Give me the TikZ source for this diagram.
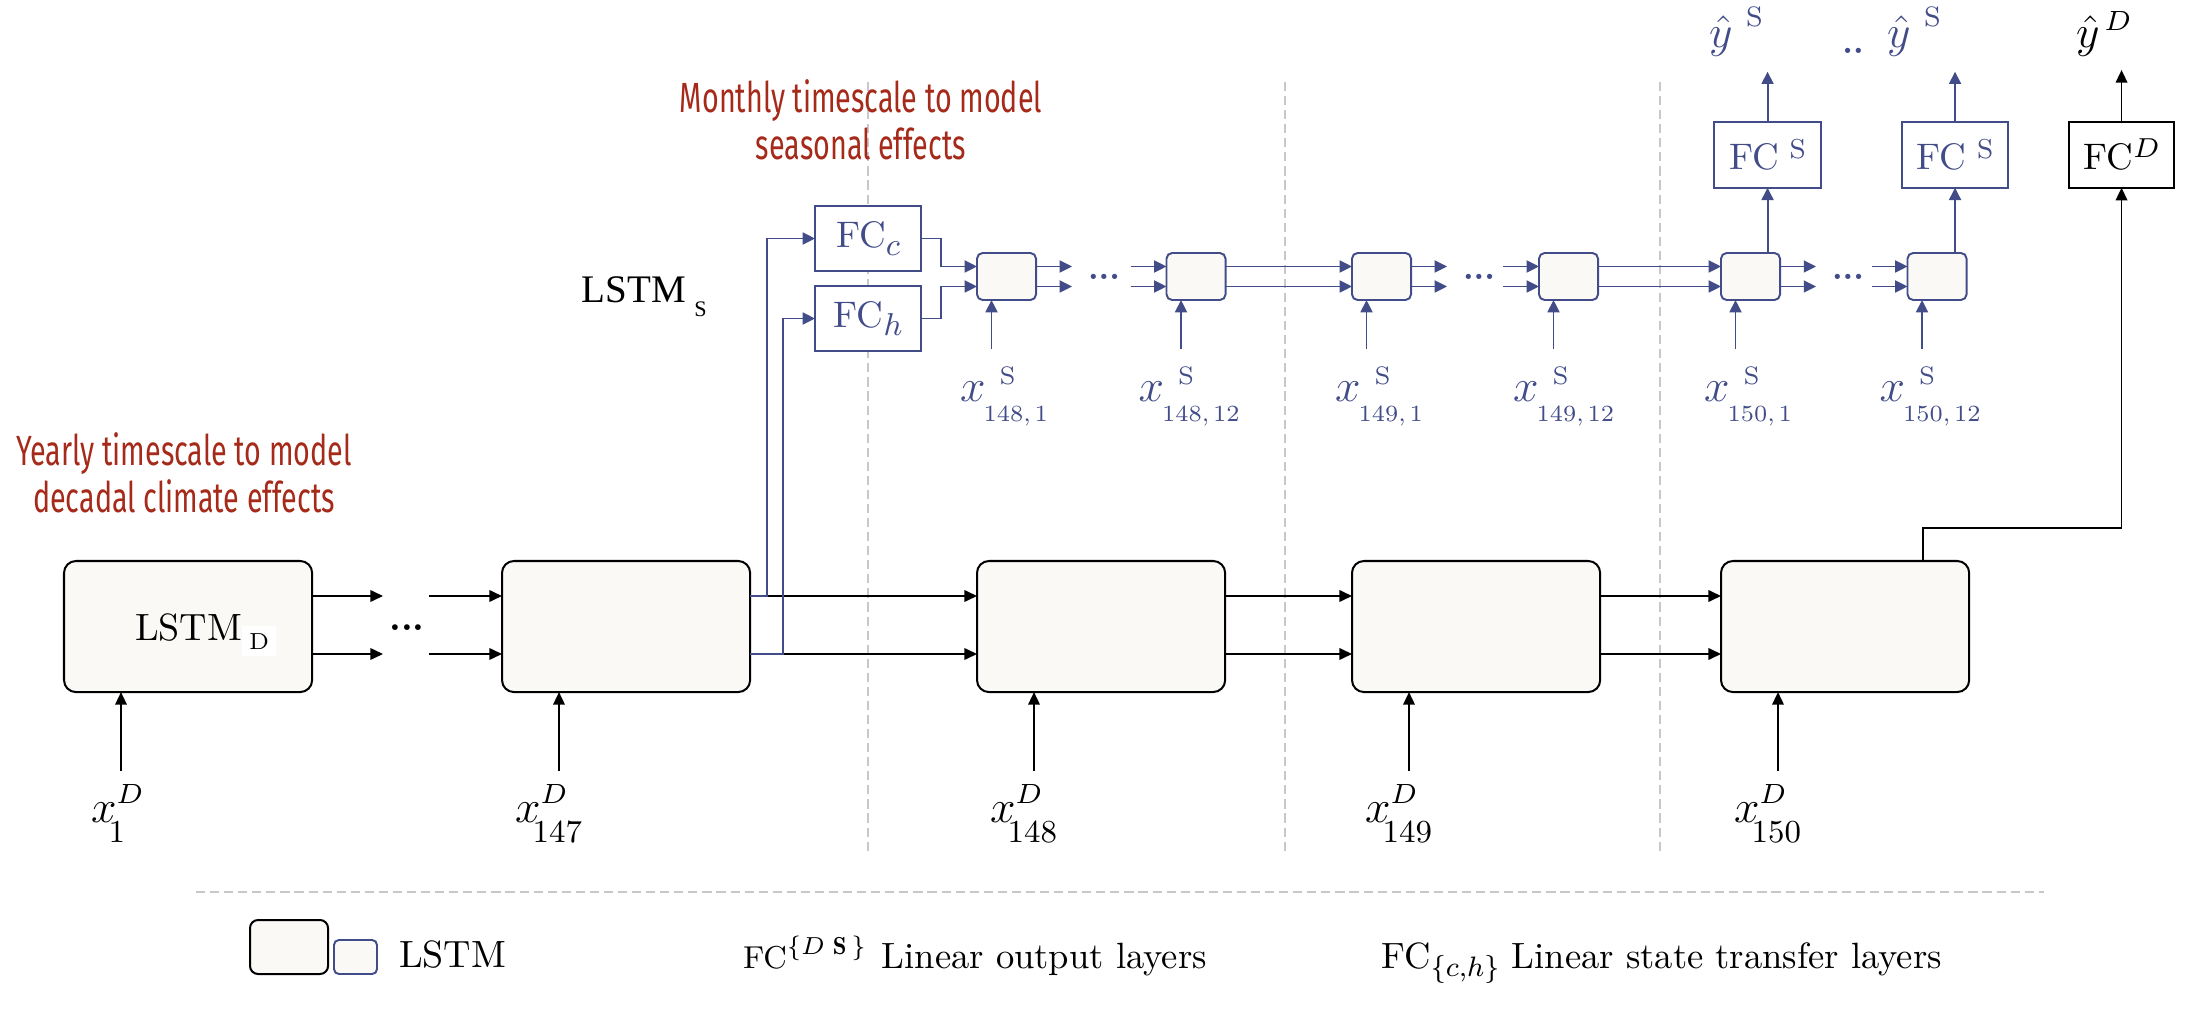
\documentclass[tikz,border=0pt]{standalone}
\usepackage{fix-cm}
\usepackage{fontspec}
\newfontfamily\redfont[FakeStretch=0.68]{Fira Sans}
\newfontfamily\timesfont{Liberation Serif}
\usetikzlibrary{arrows.meta,calc}
\definecolor{lblue}{RGB}{66,76,136}
\definecolor{lred}{RGB}{165,42,26}
\definecolor{boxfill}{RGB}{250,249,246}
\definecolor{sepgray}{RGB}{200,200,200}
\newcommand{\xSlab}[1]{$x$\rlap{\hspace{4pt}\raisebox{5pt}{\fontsize{7.2}{8}\selectfont S}}\hspace{-0.5pt}\raisebox{-5.7pt}{\fontsize{6.6}{8}\selectfont #1}}
\newcommand{\xDlab}[1]{$x$\rlap{\raisebox{5.3pt}{\fontsize{7.9}{9}\selectfont$D$}}\hspace{-2.2pt}\raisebox{-5.9pt}{\fontsize{9.1}{10}\selectfont #1}}
\newcommand{\yhatS}{$\hat{y}$\hspace{3.9pt}\raisebox{6pt}{\fontsize{8}{9}\selectfont S}}
\newcommand{\yhatD}{$\hat{y}$\hspace{1.4pt}\raisebox{4.9pt}{\fontsize{7.9}{9}\selectfont$D$}}
\begin{document}
\begin{tikzpicture}[x=0.01cm,y=-0.01cm,
  every node/.style={inner sep=0pt, outer sep=0pt},
  bigbox/.style={draw=black, line width=0.57pt, rounded corners=3.4pt, fill=boxfill, minimum width=2.48cm, minimum height=1.31cm, anchor=north west},
  smallbox/.style={draw=lblue, line width=0.55pt, rounded corners=1.6pt, fill=boxfill, minimum width=0.59cm, minimum height=0.47cm, anchor=north west},
  fcbox/.style={draw=lblue, line width=0.55pt, fill=white, minimum width=1.06cm, minimum height=0.65cm, anchor=north west, text=lblue, font=\fontsize{10.5}{12}\selectfont},
  arr/.style={draw=black, line width=0.5pt, -{Triangle[length=3.6pt,width=3.3pt]}},
  barr/.style={draw=lblue, color=lblue, line width=0.55pt, -{Triangle[length=3.5pt,width=3.4pt]}},
  sep/.style={draw=sepgray, line width=0.4pt, dash pattern=on 2.6pt off 1.4pt},
  redtxt/.style={text=lred, font=\redfont\fontsize{12}{13.4}\selectfont, align=center},
  lbl/.style={anchor=base west},
  xl/.style={anchor=base west, font=\fontsize{13}{15}\selectfont},
  xls/.style={anchor=base west, font=\fontsize{13}{15}\selectfont, text=lblue},
  dotsb/.style={anchor=base, font=\bfseries\fontsize{10.5}{12}\selectfont},
  dotss/.style={anchor=base, font=\bfseries\fontsize{9.5}{12}\selectfont, text=lblue},
]
\useasboundingbox (0,0) rectangle (2188,1013);

% separators
\coordinate (v1t) at (868,82);  \coordinate (v1b) at (868,855);
\coordinate (v2t) at (1285,82); \coordinate (v2b) at (1285,855);
\coordinate (v3t) at (1660,82); \coordinate (v3b) at (1660,855);
\coordinate (hl) at (196,892);  \coordinate (hr) at (2044,892);
\draw[sep] (v1t) -- (v1b);
\draw[sep] (v2t) -- (v2b);
\draw[sep] (v3t) -- (v3b);
\draw[sep] (hl) -- (hr);

% row coordinates
\coordinate (r1) at (0,596);
\coordinate (r2) at (0,654);
\coordinate (s1) at (0,266.5);
\coordinate (s2) at (0,286.5);

% big LSTM boxes
\node[bigbox] (B1) at (64,561) {};
\node[bigbox] (B2) at (502,561) {};
\node[bigbox] (B3) at (977,561) {};
\node[bigbox] (B4) at (1352,561) {};
\node[bigbox] (B5) at (1721,561) {};
\node[lbl, font=\fontsize{10.8}{12}\selectfont] (lstmD) at (135,640) {LSTM\raisebox{-2.56pt}{\setlength{\fboxsep}{2pt}\colorbox{white}{\fontsize{6.6}{7}\selectfont D}}};

% big row connectors
\coordinate (B1o) at (383,0);
\coordinate (B2i) at (429,0);
\draw[arr] (B1.east |- r1) -- (B1o |- r1);
\draw[arr] (B1.east |- r2) -- (B1o |- r2);
\node[dotsb] (dB) at (407,631) {...};
\draw[arr] (B2i |- r1) -- (B2.west |- r1);
\draw[arr] (B2i |- r2) -- (B2.west |- r2);
\foreach \a/\b in {B2/B3,B3/B4,B4/B5}{
  \draw[arr] (\a.east |- r1) -- (\b.west |- r1);
  \draw[arr] (\a.east |- r2) -- (\b.west |- r2);
}

% big inputs and labels
\foreach \k in {B1,B2,B3,B4,B5}{
  \coordinate (\k-in) at ($(\k.south west)+(57,79)$);
  \draw[arr] (\k-in) -- (\k-in |- \k.south);
}
\node[xl] (XD1) at ($(B1.south west)+(27,130)$) {\xDlab{1}};
\node[xl] (XD2) at ($(B2.south west)+(13,130)$) {\xDlab{147}};
\node[xl] (XD3) at ($(B3.south west)+(13,130)$) {\xDlab{148}};
\node[xl] (XD4) at ($(B4.south west)+(13,130)$) {\xDlab{149}};
\node[xl] (XD5) at ($(B5.south west)+(13,130)$) {\xDlab{150}};

% state transfer layers
\node[fcbox] (FCc) at (815,206) {FC\raisebox{-2.4pt}{\fontsize{9}{10}\selectfont$c$}};
\node[fcbox] (FCh) at (815,286) {FC\raisebox{-2.4pt}{\fontsize{9}{10}\selectfont$h$}};
\coordinate (bx1) at (766.7,0);
\coordinate (bx2) at (782.7,0);
\draw[barr] (B2.east |- r1) -| (bx1 |- FCc.west) -- (FCc.west);
\draw[barr] (B2.east |- r2) -| (bx2 |- FCh.west) -- (FCh.west);

% small LSTM boxes
\node[smallbox] (S1) at (977,253) {};
\node[smallbox] (S2) at (1166.5,253) {};
\node[smallbox] (S3) at (1352,253) {};
\node[smallbox] (S4) at (1539,253) {};
\node[smallbox] (S5) at (1721,253) {};
\node[smallbox] (S6) at (1907.5,253) {};
\node[lbl, font=\timesfont\fontsize{11.1}{13}\selectfont] (lstmS) at (581.7,302.7) {LSTM\hspace{2.4pt}\raisebox{-4pt}{\fontsize{6.3}{7}\selectfont S}};

\coordinate (bend) at (941,0);
\draw[barr] (FCc.east) -| (bend |- s1) -- (S1.west |- s1);
\draw[barr] (FCh.east) -| (bend |- s2) -- (S1.west |- s2);

\foreach \a/\b in {S1/S2,S3/S4,S5/S6}{
  \coordinate (\a-o) at ($(\a.east)+(36,0)$);
  \coordinate (\b-i) at ($(\b.west)+(-36,0)$);
  \draw[barr] (\a.east |- s1) -- (\a-o |- s1);
  \draw[barr] (\a.east |- s2) -- (\a-o |- s2);
  \draw[barr] (\b-i |- s1) -- (\b.west |- s1);
  \draw[barr] (\b-i |- s2) -- (\b.west |- s2);
  \node[dotss] (\a-d) at ($(\a.east)+(68,3)$) {...};
}
\foreach \a/\b in {S2/S3,S4/S5}{
  \draw[barr] (\a.east |- s1) -- (\b.west |- s1);
  \draw[barr] (\a.east |- s2) -- (\b.west |- s2);
}
\foreach \k in {S1,S2,S3,S4,S5,S6}{
  \coordinate (\k-in) at ($(\k.south west)+(14.5,49)$);
  \draw[barr] (\k-in) -- (\k-in |- \k.south);
}
\node[xls] (XS1) at ($(S1.south west)+(-17,101.7)$) {\xSlab{148,\,1}};
\node[xls] (XS2) at ($(S2.south west)+(-28,101.7)$) {\xSlab{148,\,12}};
\node[xls] (XS3) at ($(S3.south west)+(-17,101.7)$) {\xSlab{149,\,1}};
\node[xls] (XS4) at ($(S4.south west)+(-26,101.7)$) {\xSlab{149,\,12}};
\node[xls] (XS5) at ($(S5.south west)+(-17,101.7)$) {\xSlab{150,\,1}};
\node[xls] (XS6) at ($(S6.south west)+(-28,101.7)$) {\xSlab{150,\,12}};

% output layers
\node[fcbox, minimum width=1.07cm, minimum height=0.66cm] (FS1) at (1714,121.7) {FC\hspace{3pt}\raisebox{3.3pt}{\fontsize{7.8}{9}\selectfont S}};
\node[fcbox, minimum width=1.06cm, minimum height=0.66cm] (FS2) at (1902,121.7) {FC\hspace{3pt}\raisebox{3.3pt}{\fontsize{7.8}{9}\selectfont S}};
\node[fcbox, draw=black, text=black, line width=0.6pt, minimum width=1.05cm, minimum height=0.66cm] (FD) at (2069,121.7) {FC\raisebox{3.3pt}{\fontsize{7.8}{9}\selectfont$D$}};
\draw[barr] (FS1.south |- S5.north) -- (FS1.south);
\draw[barr] (FS2.south |- S6.north) -- (FS2.south);
\coordinate (ys1) at ($(FS1.north)+(0,-50)$);
\coordinate (ys2) at ($(FS2.north)+(0,-50)$);
\coordinate (yd) at ($(FD.north)+(0,-51.7)$);
\draw[barr] (FS1.north) -- (ys1);
\draw[barr] (FS2.north) -- (ys2);
\draw[arr] (FD.north) -- (yd);
\coordinate (fdk) at (1922.7,527.7);
\draw[arr] (fdk |- B5.north) -- (fdk) -| (FD.south);
\node[xls] (YS1) at (1709,48) {\yhatS};
\node[dotss] (ydots) at (1853,54) {..};
\node[xls] (YS2) at (1887,48) {\yhatS};
\node[xl] (YD) at (2076,48) {\yhatD};

% annotations
\node[redtxt, anchor=base] (mon) at (861,160) {Monthly timescale to model\\seasonal effects};
\node[redtxt, anchor=base] (yr) at (184,513) {Yearly timescale to model\\decadal climate effects};

% legend
\node[draw=black, line width=0.57pt, rounded corners=2.3pt, fill=boxfill, minimum width=0.78cm, minimum height=0.54cm, anchor=north west] (LB1) at (250,920) {};
\node[smallbox, minimum width=0.43cm, minimum height=0.34cm, rounded corners=1.4pt] (LB2) at (334,940) {};
\node[lbl, font=\fontsize{10.8}{12}\selectfont] (LT1) at (399,967.7) {LSTM};
\node[lbl, font=\fontsize{9}{10}\selectfont] (LF1) at (743,968) {FC\raisebox{3.7pt}{\fontsize{7}{8}\selectfont$\{D\;\mathbf{S}\,\}$}};
\node[lbl, font=\fontsize{10.4}{12}\selectfont] (LT2) at (881.7,968) {Linear output layers};
\node[lbl, font=\fontsize{10.4}{12}\selectfont] (LF2) at (1381.7,968) {FC\raisebox{-2.5pt}{\fontsize{8}{9}\selectfont$\{c{,}h\}$}};
\node[lbl, font=\fontsize{10.4}{12}\selectfont] (LT3) at (1511.7,968) {Linear state transfer layers};
\end{tikzpicture}
\end{document}
